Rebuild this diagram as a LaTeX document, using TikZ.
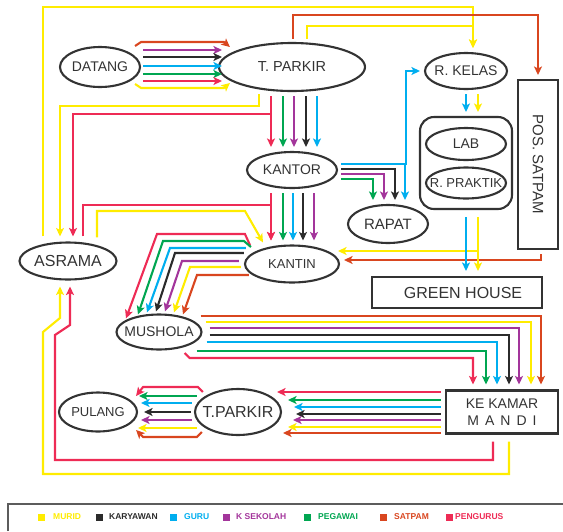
\documentclass[tikz,border=0pt]{standalone}
\usepackage{fontspec}
\setmainfont{Liberation Sans}
\usetikzlibrary{shapes.geometric, arrows.meta}

\definecolor{ink}{HTML}{333333}
\definecolor{cMurid}{HTML}{FFEC00}
\definecolor{cKary}{HTML}{2B2B2B}
\definecolor{cGuru}{HTML}{00AEEF}
\definecolor{cKsek}{HTML}{A3359B}
\definecolor{cPega}{HTML}{00A651}
\definecolor{cSatp}{HTML}{D9461F}
\definecolor{cPeng}{HTML}{EE2B55}

\newcommand\placename[1]{\makebox[0pt]{#1}}

\begin{document}
\begin{tikzpicture}[x=1pt, y=-1pt,
  flow/.style={line width=2.1pt, -{Stealth[length=8.5pt, width=8pt, inset=2pt]}},
  murid/.style={flow, draw=cMurid}, kary/.style={flow, draw=cKary},
  guru/.style={flow, draw=cGuru}, ksek/.style={flow, draw=cKsek},
  pega/.style={flow, draw=cPega}, satp/.style={flow, draw=cSatp},
  peng/.style={flow, draw=cPeng},
  loc/.style={ellipse, draw=ink, line width=2.1pt, inner sep=0pt, text=ink},
  box/.style={rectangle, draw=ink, line width=2.1pt, inner sep=0pt, text=ink},
  fs/.style={font=\fontsize{#1}{#1}\selectfont}]
  \useasboundingbox (0,0) rectangle (563,531);

  \node[loc, minimum width=80pt, minimum height=40pt, fs=14] (datang) at (100,67) {\placename{DATANG}};
  \node[loc, minimum width=146pt, minimum height=48pt, fs=14.5] (tparkir) at (292,67) {\placename{T. PARKIR}};
  \node[loc, minimum width=82pt, minimum height=36pt, fs=14] (rkelas) at (466,71) {\placename{R. KELAS}};
  \node[box, minimum width=40pt, minimum height=169pt, fs=15] (possatpam) at (538,164.5) {\rotatebox{-90}{POS. SATPAM}};
  \node[box, rounded corners=14pt, minimum width=92pt, minimum height=92pt] (labbox) at (466,163) {};
  \node[loc, minimum width=80pt, minimum height=32pt, fs=14] (lab) at (466,144) {\placename{LAB}};
  \node[loc, minimum width=80pt, minimum height=31pt, fs=13] (rpraktik) at (466,183) {\placename{R. PRAKTIK}};
  \node[loc, minimum width=90pt, minimum height=36pt, fs=14] (kantor) at (292,170) {\placename{KANTOR}};
  \node[loc, minimum width=80pt, minimum height=38pt, fs=15] (rapat) at (388,224) {\placename{RAPAT}};
  \node[loc, minimum width=94pt, minimum height=37pt, fs=13] (kantin) at (292,264) {\placename{KANTIN}};
  \node[loc, minimum width=97pt, minimum height=37pt, fs=16] (asrama) at (68,261) {\placename{ASRAMA}};
  \node[box, minimum width=170pt, minimum height=31pt, fs=16] (greenhouse) at (457,292.5) {\hspace*{12pt}GREEN HOUSE};
  \node[loc, minimum width=85pt, minimum height=35pt, fs=14] (mushola) at (159,332) {\placename{MUSHOLA}};
  \node[box, minimum width=112pt, minimum height=43pt, align=center, font=\fontsize{14}{17}\selectfont] (kamar) at (502,412)
    {KE KAMAR\\M\hspace{6pt}A\hspace{6pt}N\hspace{6pt}D\hspace{6pt}I};
  \node[loc, minimum width=86pt, minimum height=46pt, fs=16] (tparkirb) at (238,412) {\placename{T.PARKIR}};
  \node[loc, minimum width=78pt, minimum height=39pt, fs=13] (pulang) at (98,412) {\placename{PULANG}};

  \draw[satp] ([shift={(-6,-21)}]datang.east) -- ++(6,-4) -- ([shift={(6,-25)}]tparkir.west) -- ([shift={(12,-20)}]tparkir.west);
  \foreach \col/\dy in {ksek/-17, kary/-10, guru/-1, pega/7, peng/14}
    \draw[\col] ([shift={(2,\dy)}]datang.east) -- ([shift={(4,\dy)}]tparkir.west);
  \draw[murid] ([shift={(-6,17)}]datang.east) -- ++(6,4) -- ([shift={(6,21)}]tparkir.west) -- ([shift={(12,16)}]tparkir.west);

  \foreach \col/\dx in {peng/-21, pega/-9, ksek/2, kary/14, guru/25}
    \draw[\col] ([shift={(\dx,4)}]tparkir.south) -- ([shift={(\dx,-4)}]kantor.north);
  \draw[peng] ([shift={(-21,4)}]tparkir.south) -- ++(0,18) -| ([shift={(5,-5)}]asrama.north);
  \draw[murid] ([shift={(-33,2)}]tparkir.south) -- ++(0,12) -| ([shift={(-8,-5)}]asrama.north);
  \draw[murid] ([shift={(-25,-5)}]asrama.north) |- ([shift={(7,-45)}]rkelas.north) -- ([shift={(7,-4)}]rkelas.north);
  \draw[murid] ([shift={(15,-3)}]tparkir.north) -- ++(0,-13) -| ([shift={(7,-4)}]rkelas.north);
  \draw[satp] ([shift={(1,-3)}]tparkir.north) -- ++(0,-24) -| ([shift={(0,-4)}]possatpam.north);

  \foreach \col/\dy/\dx in {guru/-6/17, kary/-1/7, ksek/4/-4, pega/9/-15}
    \draw[\col] ([shift={(3,\dy)}]kantor.east) -| ([shift={(\dx,-4)}]rapat.north);
  \draw[guru] ([shift={(3,-6)}]kantor.east) -- ++(65,0) |- ([xshift=-4pt]rkelas.west);

  \foreach \col/\dx in {guru/0, murid/12}
    \draw[\col] ([shift={(\dx,4)}]rkelas.south) -- ([shift={(\dx,-4)}]labbox.north);
  \draw[murid] ([shift={(12,7)}]labbox.south) |- ([shift={(-2,-13)}]kantin.east);
  \draw[satp] ([shift={(3,4)}]possatpam.south) |- ([shift={(4,-4)}]kantin.east);
  \foreach \col/\dx in {guru/0, murid/12}
    \draw[\col, shorten >=5pt] ([shift={(\dx,7)}]labbox.south) coordinate (s) -- (s |- greenhouse.north);

  \draw[peng] ([shift={(15,-5)}]asrama.north) |- ([shift={(-21,16)}]kantor.south) -- ([shift={(-21,-4)}]kantin.north);
  \draw[murid] ([shift={(29,-4)}]asrama.north) |- (245,211) -- ([shift={(-29,-2)}]kantin.north);
  \foreach \col/\dx in {peng/-21, pega/-9, guru/1, kary/11, ksek/22}
    \draw[\col] ([shift={(\dx,4)}]kantor.south) -- ([shift={(\dx,-4)}]kantin.north);

  \draw[peng] ([shift={(6,-19)}]kantin.west) -- ++(-5,-11) -- (157,234) -- ([shift={(-33,5)}]mushola.north);
  \draw[pega] ([shift={(7,-17)}]kantin.west) -- ++(-7,-6) -- (163,241) -- ([shift={(-21,1)}]mushola.north);
  \draw[guru] ([shift={(2,-16)}]kantin.west) -- (170,248) -- ([shift={(-12,-1)}]mushola.north);
  \draw[kary] ([shift={(0,-11)}]kantin.west) -- (175,253) -- ([shift={(-3,-2)}]mushola.north);
  \draw[ksek] ([shift={(-5,-3)}]kantin.west) -- (182,261) -- ([shift={(6,-2)}]mushola.north);
  \draw[murid] ([shift={(-3,3)}]kantin.west) -- (190,267) -- ([shift={(15,-1)}]mushola.north);
  \draw[satp] ([shift={(5,11)}]kantin.west) -- (197,275) -- ([shift={(24,1)}]mushola.north);

  \foreach \col/\sx/\dy/\dx in {satp/-2/-16/39, murid/3/-10/29, ksek/7/-4/17, kary/7/3/7, guru/4/10/-5, pega/-6/19/-16}
    \draw[\col] ([shift={(\sx,\dy)}]mushola.east) -| ([shift={(\dx,-5)}]kamar.north);
  \draw[peng] ([shift={(-18,21)}]mushola.east) -- ++(5,5) -| ([shift={(-29,-5)}]kamar.north);

  \foreach \col/\dy/\tx in {peng/-20/-5, pega/-12/6, guru/-5/12, kary/2/14, ksek/8/11, murid/15/6, satp/21/1}
    \draw[\col] ([shift={(-4,\dy)}]kamar.west) -- ([shift={(\tx,\dy)}]tparkirb.east);

  \draw[peng] ([shift={(9,-20)}]tparkirb.west) -- ++(-5,-5) -- ([shift={(5,-25)}]pulang.east) -- ([shift={(-2,-16)}]pulang.east);
  \foreach \col/\dy/\sx/\tx in {pega/-16/3/1, guru/-9/-2/3, kary/0/-3/6, ksek/8/-2/3, murid/16/3/0}
    \draw[\col] ([shift={(\sx,\dy)}]tparkirb.west) -- ([shift={(\tx,\dy)}]pulang.east);
  \draw[satp] ([shift={(8,20)}]tparkirb.west) -- ++(-5,5) -- ([shift={(5,25)}]pulang.east) -- ([shift={(-2,18)}]pulang.east);

  \draw[peng] ([shift={(-9,7)}]kamar.south) |- (55,460) -- (55,335) -- (70,325) -- ([shift={(2,6)}]asrama.south);
  \draw[murid] ([shift={(7,7)}]kamar.south) |- (43,474) -- (43,332) -- (60,318) -- ([shift={(-8,6)}]asrama.south);

  \draw[ink!80, line width=1.2pt] (8,531) -- (8,504) -- (563,504);
  \foreach \col/\txt/\x/\tx [count=\i] in {cMurid/MURID/38/53, cKary/KARYAWAN/96/109, cGuru/GURU/170/184,
      cKsek/K SEKOLAH/223/236, cPega/PEGAWAI/304/318, cSatp/SATPAM/380/394, cPeng/PENGURUS/446/455} {
    \fill[\col] (\x,513.5) rectangle ++(7,7);
    \node[anchor=west, inner sep=0pt, text=\col, font=\bfseries\fontsize{8.5}{8.5}\selectfont] (leg\i) at (\tx,517) {\txt};
  }
\end{tikzpicture}
\end{document}
